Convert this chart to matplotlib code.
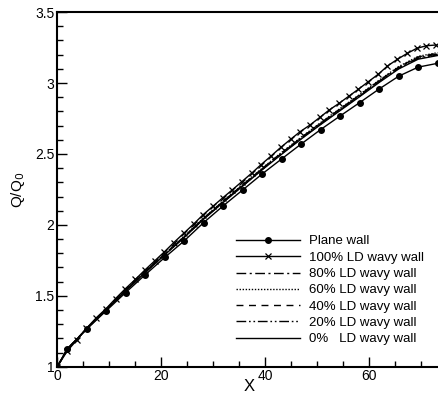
import matplotlib
matplotlib.use("Agg")
import matplotlib.pyplot as plt
from matplotlib.ticker import MultipleLocator

plt.rcParams['font.family'] = ['Liberation Sans', 'DejaVu Sans']

# data
x_plane = [0, 1.9, 5.65, 9.4, 13.15, 16.9, 20.65, 24.4, 28.15, 31.9, 35.65,
           39.4, 43.15, 46.9, 50.65, 54.4, 58.15, 61.9, 65.65, 69.4, 73.15]
plane_wall = [1.0, 1.127, 1.265, 1.394, 1.523, 1.648, 1.77, 1.887, 2.016, 2.134, 2.246,
              2.359, 2.465, 2.57, 2.672, 2.768, 2.862, 2.958, 3.048, 3.112, 3.139]

x_wavy100 = [0, 1.9, 3.8, 5.6, 7.5, 9.4, 11.2, 13.1, 15.0, 16.8, 18.7, 20.6, 22.4, 24.3,
             26.2, 28.0, 29.9, 31.8, 33.6, 35.5, 37.4, 39.2, 41.1, 43.0, 44.9, 46.7,
             48.6, 50.5, 52.3, 54.2, 56.1, 57.9, 59.8, 61.7, 63.5, 65.4, 67.3, 69.1,
             71.0, 72.8]
wavy100 = [1.0, 1.11, 1.19, 1.27, 1.345, 1.41, 1.48, 1.55, 1.615, 1.68, 1.745, 1.81,
           1.875, 1.94, 2.005, 2.07, 2.13, 2.19, 2.245, 2.305, 2.365, 2.425, 2.485,
           2.547, 2.604, 2.657, 2.704, 2.758, 2.81, 2.857, 2.908, 2.956, 3.009, 3.061,
           3.12, 3.167, 3.209, 3.244, 3.263, 3.268]

wavy80 = [1.0, 1.122, 1.268, 1.404, 1.538, 1.667, 1.792, 1.915, 2.045, 2.163, 2.279,
          2.394, 2.505, 2.612, 2.715, 2.815, 2.912, 3.013, 3.108, 3.178, 3.204]
wavy60 = [1.0, 1.122, 1.269, 1.406, 1.540, 1.670, 1.795, 1.919, 2.049, 2.168, 2.284,
          2.399, 2.511, 2.618, 2.721, 2.821, 2.919, 3.020, 3.116, 3.188, 3.214]
wavy40 = [1.0, 1.122, 1.269, 1.405, 1.539, 1.669, 1.794, 1.917, 2.047, 2.166, 2.282,
          2.397, 2.508, 2.615, 2.718, 2.818, 2.916, 3.017, 3.112, 3.184, 3.210]
wavy20 = [1.0, 1.122, 1.267, 1.403, 1.537, 1.665, 1.790, 1.913, 2.043, 2.160, 2.276,
          2.391, 2.502, 2.608, 2.711, 2.811, 2.908, 3.009, 3.104, 3.174, 3.199]
wavy0 = [1.0, 1.122, 1.267, 1.402, 1.535, 1.664, 1.788, 1.911, 2.040, 2.158, 2.273,
         2.388, 2.498, 2.605, 2.707, 2.806, 2.904, 3.004, 3.099, 3.168, 3.194]

labels = ["Plane wall", "100% LD wavy wall", "80% LD wavy wall", "60% LD wavy wall",
          "40% LD wavy wall", "20% LD wavy wall", "0%   LD wavy wall"]

fig = plt.figure(figsize=(4.39, 3.98), dpi=100)
ax = fig.add_axes([0.1305, 0.0786, 0.8765, 0.891])

lw = 1.0
ax.plot(x_plane, plane_wall, color='black', lw=lw, marker='o', ms=4, label=labels[0])
ax.plot(x_wavy100, wavy100, color='black', lw=lw, marker='x', ms=5, mew=0.9, label=labels[1])
ax.plot(x_plane, wavy80, color='black', lw=lw, dashes=(7, 2.5, 1.5, 2.5), label=labels[2])
ax.plot(x_plane, wavy60, color='black', lw=lw, dashes=(1, 1.2), label=labels[3])
ax.plot(x_plane, wavy40, color='black', lw=lw, dashes=(5, 4), label=labels[4])
ax.plot(x_plane, wavy20, color='black', lw=lw, dashes=(7, 2, 1.2, 2, 1.2, 2), label=labels[5])
ax.plot(x_plane, wavy0, color='black', lw=lw, label=labels[6])

ax.set_xlim(0, 74)
ax.set_ylim(1, 3.5)
ax.xaxis.set_major_locator(MultipleLocator(20))
ax.xaxis.set_minor_locator(MultipleLocator(5))
ax.yaxis.set_major_locator(MultipleLocator(0.5))
ax.yaxis.set_minor_locator(MultipleLocator(0.1))
ax.set_yticks([1, 1.5, 2, 2.5, 3, 3.5])
ax.set_yticklabels(["1", "1.5", "2", "2.5", "3", "3.5"])
ax.tick_params(which='both', direction='in', top=False, right=False, labelsize=10, width=1)
ax.tick_params(which='major', length=7, pad=2)
ax.tick_params(which='minor', length=4)

for s in ['left', 'bottom', 'top']:
    ax.spines[s].set_linewidth(1.5)
ax.spines['right'].set_visible(False)

ax.set_xlabel("X", fontsize=12, labelpad=-3)
ax.set_ylabel("Q/Q$_0$", fontsize=11, labelpad=6)

ax.legend(loc='lower left', bbox_to_anchor=(0.465, 0.06), frameon=False, fontsize=9.5,
          handlelength=4.8, handletextpad=0.75, labelspacing=0.31,
          borderaxespad=0, borderpad=0)

fig.savefig("out.png", dpi=100)
